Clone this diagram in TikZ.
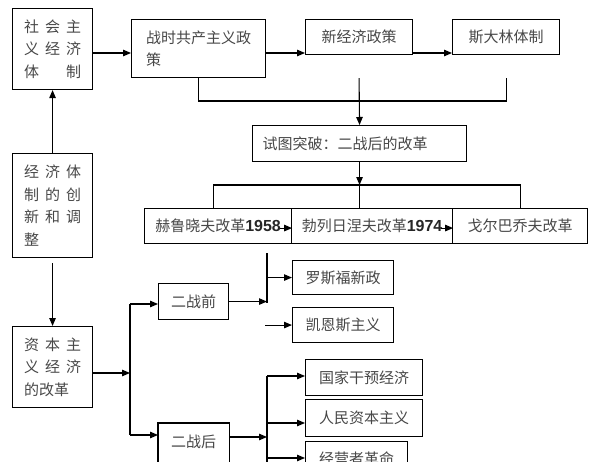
\documentclass[tikz,border=0pt]{standalone}
\usepackage{fontspec}
\setmainfont{Noto Sans CJK SC}
\newfontfamily\digitfont{Liberation Sans}
\usetikzlibrary{arrows.meta}
\newcommand\gx{\hspace{6pt}}
\newcommand\dg[1]{{\digitfont\bfseries\fontsize{16}{16}\selectfont\color{black!85}#1}}
\begin{document}
\begin{tikzpicture}[x=1pt,y=-1pt,
  box/.style={draw, line width=1.1pt, anchor=north west, inner sep=0pt, align=center,
              text=black!72, font=\fontsize{15}{22.5}\selectfont},
  conn/.style={line width=1.1pt},
  arr/.style={line width=1.1pt, -{Triangle[length=8pt,width=6.5pt]}}
]
\useasboundingbox (0,0) rectangle (600,461);
\clip (0,0) rectangle (600,461);

% nodes
\node[box, minimum width=80pt, minimum height=81pt, align=left] (A) at (12,8)
  {社\gx 会\gx 主\\义\gx 经\gx 济\\体\gx\hspace{15pt}\gx 制};
\node[box, minimum width=134pt, minimum height=58pt, align=left] (B) at (131,19) {战时共产主义政\\策};
\node[box, minimum width=107pt, minimum height=35pt] (C) at (305,19) {新经济政策};
\node[box, minimum width=107pt, minimum height=35pt] (D) at (452,19) {斯大林体制};
\node[box, text width=194pt, inner xsep=10pt, minimum height=36pt, align=left] (E) at (252,125) {试图突破：二战后的改革};
\node[box, minimum width=147pt, minimum height=35pt] (F) at (144,208) {赫鲁晓夫改革\dg{1958}};
\node[box, minimum width=161pt, minimum height=35pt] (G) at (291,208) {勃列日涅夫改革\dg{1974}};
\node[box, minimum width=135pt, minimum height=35pt] (H) at (452,208) {戈尔巴乔夫改革};
\node[box, minimum width=80pt, minimum height=104pt, align=left] (I) at (12,153)
  {经\gx 济\gx 体\\制\gx 的\gx 创\\新\gx 和\gx 调\\整};
\node[box, minimum width=80pt, minimum height=81pt, align=left] (J) at (12,326)
  {资\gx 本\gx 主\\义\gx 经\gx 济\\的改革};
\node[box, minimum width=70pt, minimum height=36pt] (K) at (158,283) {二战前};
\node[box, draw=none, minimum width=70pt, minimum height=36pt] (L) at (158,423) {二战后};
\draw[conn] ([yshift=-12pt]L.south west) -- (L.north west) -- (L.north east) -- ([yshift=-12pt]L.south east);
\node[box, minimum width=101pt, minimum height=34pt] (M) at (292,260) {罗斯福新政};
\node[box, minimum width=101pt, minimum height=35pt] (N) at (292,307) {凯恩斯主义};
\node[box, minimum width=117pt, minimum height=36pt] (O) at (305,359) {国家干预经济};
\node[box, minimum width=117pt, minimum height=37pt] (P) at (305,399) {人民资本主义};
\node[box, minimum width=102pt, minimum height=34pt] (Q) at (305,441) {经营者革命};

% helper coordinates
\coordinate (r1) at (0,53);
\coordinate (j1) at (0,101);
\coordinate (j2) at (0,185);
\coordinate (sp) at (130,373);
\coordinate (k1) at (130,304);
\coordinate (l1) at (130,435);
\coordinate (v1) at (267,253);
\coordinate (v1b) at (267,303);
\coordinate (v2) at (267,376);
\coordinate (v2b) at (267,470);
\coordinate (p1) at (267,423);
\coordinate (q1) at (267,458);
\coordinate (l2) at (267,437);

% top row
\draw[arr] (A.east |- r1) -- (B.west |- r1);
\draw[arr] (B.east |- r1) -- (C.west |- r1);
\draw[arr] (C.east |- r1) -- (D.west |- r1);
\draw[conn] (B.south) -- (B.south |- j1) -- (D.south |- j1) -- (D.south |- B.south);
\draw[arr] (C.south |- B.south) -- (E.north);

% reforms
\draw[arr] (E.south) -- (E.south |- j2);
\draw[conn] ([xshift=-5pt]F.north) -- ([xshift=-5pt]F.north |- j2) -- (H.north |- j2) -- (H.north);
\draw[conn] (E.south |- j2) -- (E.south |- G.north);
\draw[arr] ([xshift=-12pt,yshift=-2pt]F.east) -- ([yshift=-2pt]F.east);
\draw[arr] ([xshift=-12pt,yshift=-2pt]G.east) -- ([yshift=-2pt]G.east);

% left column
\draw[arr] (I.north) -- (A.south);
\draw[arr] ([yshift=-5pt]I.south) -- (J.north);

% capitalism branch
\draw[arr] (J.east |- sp) -- (sp);
\draw[conn] (k1) -- (l1);
\draw[arr] (k1) -- (K.west |- k1);
\draw[arr] (l1) -- (L.west |- l1);
\draw[conn] (v1) -- (v1b);
\draw[arr] (K.east) -- (K.east -| v1);
\draw[arr] (M.west -| v1) -- (M.west);
\draw[arr] ([xshift=-27pt]N.west) -- (N.west);
\draw[conn] (v2) -- (v2b);
\draw[arr] (L.east |- l2) -- (l2);
\draw[arr] (v2) -- (O.west |- v2);
\draw[arr] (p1) -- (P.west |- p1);
\draw[arr] (q1) -- (Q.west |- q1);
\end{tikzpicture}
\end{document}
